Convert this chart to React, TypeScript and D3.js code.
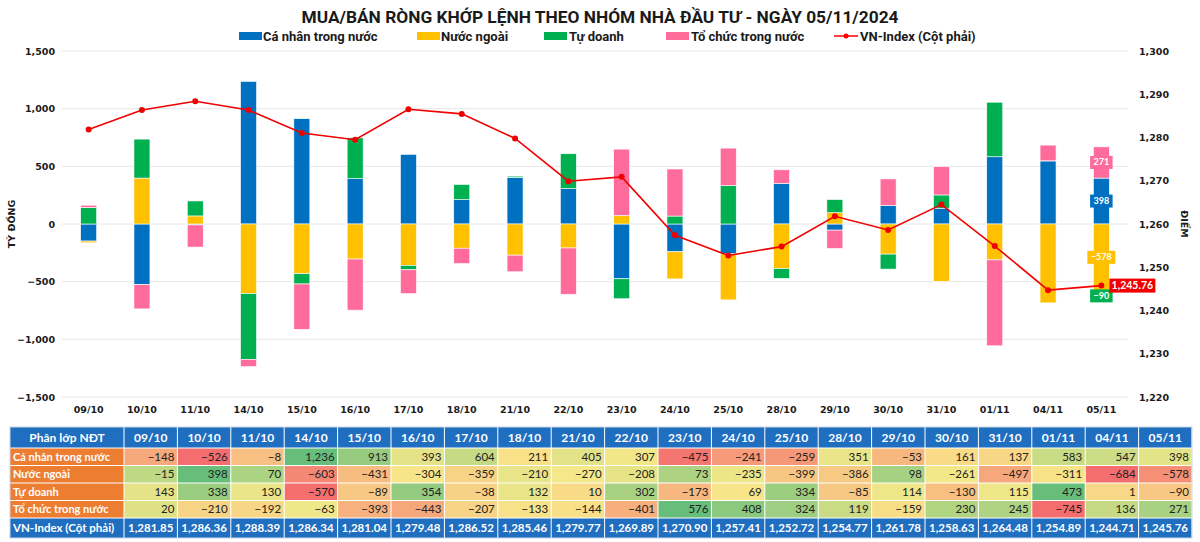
import React from "react";
import * as d3 from "d3";

const dates = ["09/10","10/10","11/10","14/10","15/10","16/10","17/10","18/10","21/10","22/10","23/10","24/10","25/10","28/10","29/10","30/10","31/10","01/11","04/11","05/11"];
const caNhan = [-148,-526,-8,1236,913,393,604,211,405,307,-475,-241,-259,351,-53,161,137,583,547,398];
const nuocNgoai = [-15,398,70,-603,-431,-304,-359,-210,-270,-208,73,-235,-399,-386,98,-261,-497,-311,-684,-578];
const tuDoanh = [143,338,130,-570,-89,354,-38,132,10,302,-173,69,334,-85,114,-130,115,473,1,-90];
const toChuc = [20,-210,-192,-63,-393,-443,-207,-133,-144,-401,576,408,324,119,-159,230,245,-745,136,271];
const vnIndex = [1281.85,1286.36,1288.39,1286.34,1281.04,1279.48,1286.52,1285.46,1279.77,1269.89,1270.90,1257.41,1252.72,1254.77,1261.78,1258.63,1264.48,1254.89,1244.71,1245.76];

const seriesNames = ["Cá nhân trong nước", "Nước ngoài", "Tự doanh", "Tổ chức trong nước"];
const seriesColors = ["#0070C0", "#FFC000", "#00B050", "#FF6C9C"];
const leftTicks = [-1500, -1000, -500, 0, 500, 1000, 1500];
const rightTicks = [1220, 1230, 1240, 1250, 1260, 1270, 1280, 1290, 1300];
const title = "MUA/BÁN RÒNG KHỚP LỆNH THEO NHÓM NHÀ ĐẦU TƯ - NGÀY 05/11/2024";
const lineName = "VN-Index (Cột phải)";

const W = 1200, H = 542;
const PL = 62, PR = 1128, PT = 51, PB = 397;
const AXF = "'DejaVu Sans', Verdana, sans-serif";
const TF = "Lato, 'Open Sans', sans-serif";

export default function App() {
  const seriesData = [caNhan, nuocNgoai, tuDoanh, toChuc];
  const rows = dates.map((d, i) => {
    const r: any = { date: d };
    seriesNames.forEach((s, k) => (r[s] = seriesData[k][i]));
    return r;
  });
  const stack = d3.stack<any>().keys(seriesNames).offset(d3.stackOffsetDiverging);
  const stacked = stack(rows);

  const x = d3.scaleBand<string>().domain(dates).range([PL, PR]).paddingInner(0.7).paddingOuter(0.35);
  const yL = d3.scaleLinear().domain([-1500, 1500]).range([PB, PT]);
  const yR = d3.scaleLinear().domain([1220, 1300]).range([PB, PT]);
  const cx = (d: string) => (x(d) as number) + x.bandwidth() / 2;

  const line = d3.line<number>().x((_, i) => cx(dates[i])).y((v) => yR(v));
  const fmt0 = d3.format(",");
  const fmt2 = d3.format(",.2f");

  const legendItems = [
    { name: seriesNames[0], color: seriesColors[0], sx: 239, tx: 263 },
    { name: seriesNames[1], color: seriesColors[1], sx: 417, tx: 441 },
    { name: seriesNames[2], color: seriesColors[2], sx: 544, tx: 569 },
    { name: seriesNames[3], color: seriesColors[3], sx: 666, tx: 691 },
  ];

  const lastIdx = dates.length - 1;
  const lastDate = dates[lastIdx];

  const tX0 = 10, tFirstW = 114, tEnd = 1192;
  const colW = (tEnd - tX0 - tFirstW) / dates.length;
  const rowYs = [427, 448, 465.5, 483, 500.5, 518, 538];
  const colorScales = seriesData.map((arr) => {
    const mn = d3.min(arr) as number, mx = d3.max(arr) as number, md = d3.median(arr) as number;
    return d3.scaleLinear<string>().domain([mn, md, mx]).range(["#F46E6F", "#F8E98A", "#67BE7B"]).interpolate(d3.interpolateRgb);
  });

  return (
    <div style={{ position: "absolute", left: 0, top: 0 }}>
      <svg width={W} height={H} style={{ display: "block", background: "#fff" }}>
        <text x={600} y={23} textAnchor="middle" fontFamily="Roboto, sans-serif" fontWeight="bold" fontSize={17} fill="#1a1a1a" textLength={597} lengthAdjust="spacingAndGlyphs">{title}</text>
        {legendItems.map((l) => (
          <g key={l.name}>
            <rect x={l.sx} y={32} width={23} height={8} fill={l.color} />
            <text x={l.tx} y={41} fontFamily="Roboto, sans-serif" fontWeight="bold" fontSize={13} fill="#1a1a1a">{l.name}</text>
          </g>
        ))}
        <line x1={834} x2={858} y1={36} y2={36} stroke="#FF0000" strokeWidth={1.5} />
        <circle cx={846} cy={36} r={2.5} fill="#FF0000" />
        <text x={860} y={41} fontFamily="Roboto, sans-serif" fontWeight="bold" fontSize={13} fill="#1a1a1a">{lineName}</text>

        {leftTicks.map((t) => (
          <line key={t} x1={PL} x2={PR} y1={yL(t)} y2={yL(t)} stroke="#E6E6E6" strokeWidth={1} />
        ))}
        {leftTicks.map((t) => (
          <text key={t} x={55} y={yL(t) + 3.5} textAnchor="end" fontFamily={AXF} fontWeight="bold" fontSize={9.5} fill="#1a1a1a">{fmt0(t)}</text>
        ))}
        {rightTicks.map((t) => (
          <text key={t} x={1139} y={yR(t) + 3.5} textAnchor="start" fontFamily={AXF} fontWeight="bold" fontSize={9.5} fill="#1a1a1a">{fmt0(t)}</text>
        ))}
        <text transform={`translate(15,${yL(0)}) rotate(-90)`} textAnchor="middle" fontFamily={AXF} fontWeight="bold" fontSize={9.5} fill="#1a1a1a">TỶ ĐỒNG</text>
        <text transform={`translate(1181,${yL(0)}) rotate(90)`} textAnchor="middle" fontFamily={AXF} fontWeight="bold" fontSize={9.5} fill="#1a1a1a">ĐIỂM</text>
        {dates.map((d) => (
          <text key={d} x={cx(d)} y={413} textAnchor="middle" fontFamily={AXF} fontWeight="bold" fontSize={9.5} fill="#1a1a1a">{d}</text>
        ))}

        {stacked.map((s, k) => (
          <g key={s.key} fill={seriesColors[k]}>
            {s.map((seg, i) => {
              const y0 = yL(seg[1]), y1 = yL(seg[0]);
              return (
                <rect key={i} x={x(dates[i])} y={Math.min(y0, y1)} width={x.bandwidth()} height={Math.abs(y1 - y0)} stroke="#fff" strokeWidth={0.6} />
              );
            })}
          </g>
        ))}

        <path d={line(vnIndex) || ""} fill="none" stroke="#F00000" strokeWidth={1.6} />
        {vnIndex.map((v, i) => (
          <circle key={i} cx={cx(dates[i])} cy={yR(v)} r={3} fill="#F00000" />
        ))}

        {stacked.map((s, k) => {
          const seg = s[lastIdx];
          const ym = (yL(seg[0]) + yL(seg[1])) / 2;
          const txt = fmt0(seriesData[k][lastIdx]);
          const bw = txt.length * 5.5 + 6;
          return (
            <g key={"lab" + k}>
              <rect x={cx(lastDate) - bw / 2} y={ym - 6.5} width={bw} height={13} fill={seriesColors[k]} />
              <text x={cx(lastDate)} y={ym + 3} textAnchor="middle" fontFamily={TF} fontWeight="bold" fontSize={9} fill="#fff">{txt}</text>
            </g>
          );
        })}
        <g>
          <rect x={cx(lastDate) + 8} y={yR(vnIndex[lastIdx]) - 7} width={46} height={14} fill="#F00000" />
          <text x={cx(lastDate) + 31} y={yR(vnIndex[lastIdx]) + 3.8} textAnchor="middle" fontFamily={TF} fontWeight="bold" fontSize={10.5} fill="#fff">{fmt2(vnIndex[lastIdx])}</text>
        </g>

        <g>
          <rect x={tX0} y={rowYs[0]} width={tEnd - tX0} height={rowYs[1] - rowYs[0]} fill="#1F6EC0" />
          <text x={tX0 + tFirstW / 2} y={rowYs[0] + 14.5} textAnchor="middle" fontFamily={TF} fontWeight="bold" fontSize={12} fill="#fff">Phân lớp NĐT</text>
          {dates.map((d, i) => (
            <text key={d} x={tX0 + tFirstW + colW * (i + 0.5)} y={rowYs[0] + 14.5} textAnchor="middle" fontFamily={TF} fontWeight="bold" fontSize={12} fill="#fff">{d}</text>
          ))}
          {seriesData.map((arr, k) => {
            const yTop = rowYs[k + 1], h = rowYs[k + 2] - yTop;
            return (
              <g key={"row" + k}>
                <rect x={tX0} y={yTop} width={tFirstW} height={h} fill="#ED7D31" />
                <text x={tX0 + 3} y={yTop + h / 2 + 4} fontFamily={TF} fontWeight="bold" fontSize={11} fill="#fff">{seriesNames[k]}</text>
                {arr.map((v, i) => (
                  <g key={i}>
                    <rect x={tX0 + tFirstW + colW * i} y={yTop} width={colW} height={h} fill={colorScales[k](v)} />
                    <text x={tX0 + tFirstW + colW * (i + 1) - 3} y={yTop + h / 2 + 4} textAnchor="end" fontFamily={TF} fontSize={11.5} fill="#222">{fmt0(v)}</text>
                  </g>
                ))}
              </g>
            );
          })}
          <rect x={tX0} y={rowYs[5]} width={tEnd - tX0} height={rowYs[6] - rowYs[5]} fill="#1F6EC0" />
          <text x={tX0 + 3} y={rowYs[5] + 14} fontFamily={TF} fontWeight="bold" fontSize={11.5} fill="#fff">{lineName}</text>
          {vnIndex.map((v, i) => (
            <text key={i} x={tX0 + tFirstW + colW * (i + 0.5)} y={rowYs[5] + 14} textAnchor="middle" fontFamily={TF} fontWeight="bold" fontSize={11.5} fill="#fff">{fmt2(v)}</text>
          ))}
          {rowYs.slice(1, 6).map((yy, i) => (
            <line key={"h" + i} x1={tX0} x2={tEnd} y1={yy} y2={yy} stroke="#fff" strokeWidth={1} />
          ))}
          {d3.range(dates.length + 1).map((i) => (
            <line key={"v" + i} x1={tX0 + tFirstW + colW * i} x2={tX0 + tFirstW + colW * i} y1={rowYs[0]} y2={rowYs[6]} stroke="#fff" strokeWidth={1} />
          ))}
          <rect x={tX0} y={rowYs[0]} width={tEnd - tX0} height={rowYs[6] - rowYs[0]} fill="none" stroke="#C9D6E6" strokeWidth={1} />
        </g>
      </svg>
    </div>
  );
}
